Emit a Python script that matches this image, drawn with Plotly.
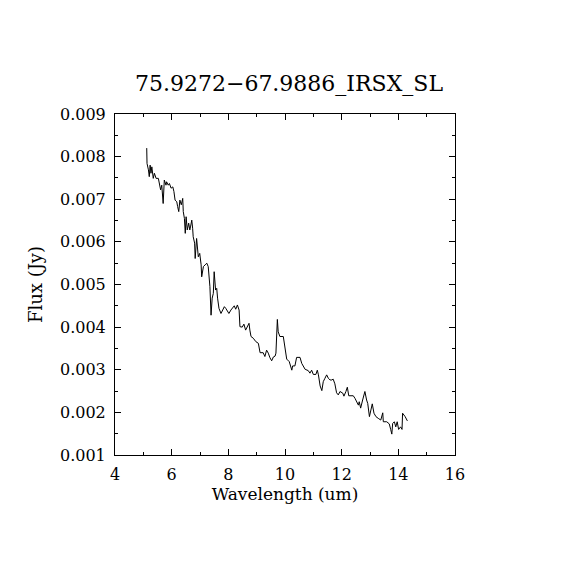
import plotly.graph_objects as go

# wavelength (um) and flux (Jy)
wave = [5.12, 5.13, 5.18, 5.21, 5.24, 5.27, 5.30, 5.33, 5.35, 5.39,
        5.45, 5.53, 5.56, 5.59, 5.61, 5.65, 5.68, 5.70, 5.74, 5.80,
        5.82, 5.88, 5.92, 5.98, 6.04, 6.08, 6.12, 6.18, 6.21, 6.25,
        6.29, 6.34, 6.39, 6.41, 6.45, 6.48, 6.51, 6.55, 6.60, 6.64,
        6.67, 6.71, 6.74, 6.76, 6.81, 6.83, 6.88, 6.92, 6.94, 6.99,
        7.04, 7.06, 7.12, 7.18, 7.24, 7.29, 7.35, 7.39, 7.43, 7.47,
        7.50, 7.55, 7.59, 7.62, 7.67, 7.74, 7.79, 7.86, 7.91, 7.95,
        8.02, 8.09, 8.14, 8.21, 8.26, 8.32, 8.38, 8.41, 8.49, 8.55,
        8.61, 8.68, 8.73, 8.76, 8.80, 8.88, 8.97, 9.06, 9.12, 9.23,
        9.29, 9.35, 9.41, 9.47, 9.53, 9.59, 9.65, 9.68, 9.73, 9.76,
        9.82, 9.94, 10.00, 10.06, 10.15, 10.24, 10.27, 10.35, 10.41, 10.53,
        10.59, 10.71, 10.82, 10.88, 10.94, 11.00, 11.09, 11.14, 11.18, 11.24,
        11.30, 11.35, 11.41, 11.47, 11.53, 11.59, 11.65, 11.70, 11.76, 11.82,
        11.88, 11.94, 12.04, 12.08, 12.15, 12.20, 12.25, 12.41, 12.47, 12.53,
        12.59, 12.62, 12.67, 12.74, 12.82, 12.88, 12.92, 12.98, 13.03, 13.08,
        13.14, 13.21, 13.29, 13.38, 13.45, 13.47, 13.59, 13.68, 13.73, 13.77,
        13.80, 13.86, 13.91, 13.96, 14.01, 14.08, 14.13, 14.15, 14.24, 14.32]

flux = [0.00820, 0.00784, 0.00769, 0.00753, 0.00780, 0.00761, 0.00776, 0.00765, 0.00749, 0.00761,
        0.00749, 0.00749, 0.00737, 0.00726, 0.00722, 0.00733, 0.00702, 0.00690, 0.00745, 0.00733,
        0.00741, 0.00733, 0.00737, 0.00726, 0.00729, 0.00718, 0.00698, 0.00694, 0.00683, 0.00671,
        0.00698, 0.00687, 0.00702, 0.00671, 0.00655, 0.00620, 0.00659, 0.00628, 0.00644, 0.00628,
        0.00637, 0.00651, 0.00632, 0.00612, 0.00597, 0.00561, 0.00608, 0.00581, 0.00565, 0.00573,
        0.00546, 0.00518, 0.00542, 0.00546, 0.00550, 0.00542, 0.00495, 0.00428, 0.00468, 0.00479,
        0.00530, 0.00487, 0.00491, 0.00468, 0.00444, 0.00432, 0.00440, 0.00448, 0.00444, 0.00440,
        0.00432, 0.00440, 0.00444, 0.00450, 0.00442, 0.00452, 0.00440, 0.00401, 0.00400, 0.00407,
        0.00393, 0.00405, 0.00409, 0.00393, 0.00378, 0.00374, 0.00366, 0.00362, 0.00340, 0.00340,
        0.00331, 0.00346, 0.00339, 0.00328, 0.00321, 0.00330, 0.00332, 0.00339, 0.00418, 0.00389,
        0.00378, 0.00378, 0.00346, 0.00325, 0.00319, 0.00299, 0.00309, 0.00309, 0.00329, 0.00329,
        0.00315, 0.00301, 0.00298, 0.00292, 0.00299, 0.00289, 0.00289, 0.00299, 0.00288, 0.00262,
        0.00251, 0.00272, 0.00280, 0.00288, 0.00280, 0.00276, 0.00276, 0.00278, 0.00267, 0.00246,
        0.00241, 0.00249, 0.00245, 0.00238, 0.00249, 0.00259, 0.00239, 0.00239, 0.00233, 0.00223,
        0.00217, 0.00225, 0.00210, 0.00229, 0.00249, 0.00229, 0.00221, 0.00190, 0.00202, 0.00220,
        0.00198, 0.00190, 0.00186, 0.00182, 0.00199, 0.00178, 0.00178, 0.00173, 0.00160, 0.00149,
        0.00174, 0.00178, 0.00166, 0.00178, 0.00160, 0.00166, 0.00160, 0.00198, 0.00190, 0.00180]

fnt = "DejaVu Serif"

fig = go.Figure()
fig.add_trace(go.Scatter(x=wave, y=flux, mode='lines',
                         line=dict(color='black', width=1), showlegend=False))

ax = dict(showline=True, linecolor='black', linewidth=1, mirror='ticks',
          ticks='inside', ticklen=6, tickcolor='black', showgrid=False, zeroline=False,
          ticklabelstandoff=5,
          tickfont=dict(family=fnt, size=16, color='black'))

# page body has an 8px margin, so the figure is a bit smaller than the window
fig.update_layout(
    width=562, height=562,
    margin=dict(l=107, r=115, t=106, b=115),
    paper_bgcolor='white', plot_bgcolor='white',
    title=dict(text='75.9272\u221267.9886_IRSX_SL', x=0.5, xanchor='center',
               y=1 - 75 / 562, yanchor='middle',
               font=dict(family=fnt, size=22, color='black')),
    xaxis=dict(ax, range=[4, 16], dtick=2, tick0=4,
               minor=dict(dtick=1, ticks='inside', ticklen=3, tickcolor='black'),
               title=dict(text='Wavelength (um)', standoff=4,
                          font=dict(family=fnt, size=17, color='black'))),
    yaxis=dict(ax, range=[0.001, 0.009], dtick=0.001, tick0=0.001, tickformat='.3f',
               minor=dict(dtick=0.0005, ticks='inside', ticklen=3, tickcolor='black'),
               title=dict(text='Flux (Jy)', standoff=12,
                          font=dict(family=fnt, size=18, color='black'))),
)

fig.write_html("out.html")
